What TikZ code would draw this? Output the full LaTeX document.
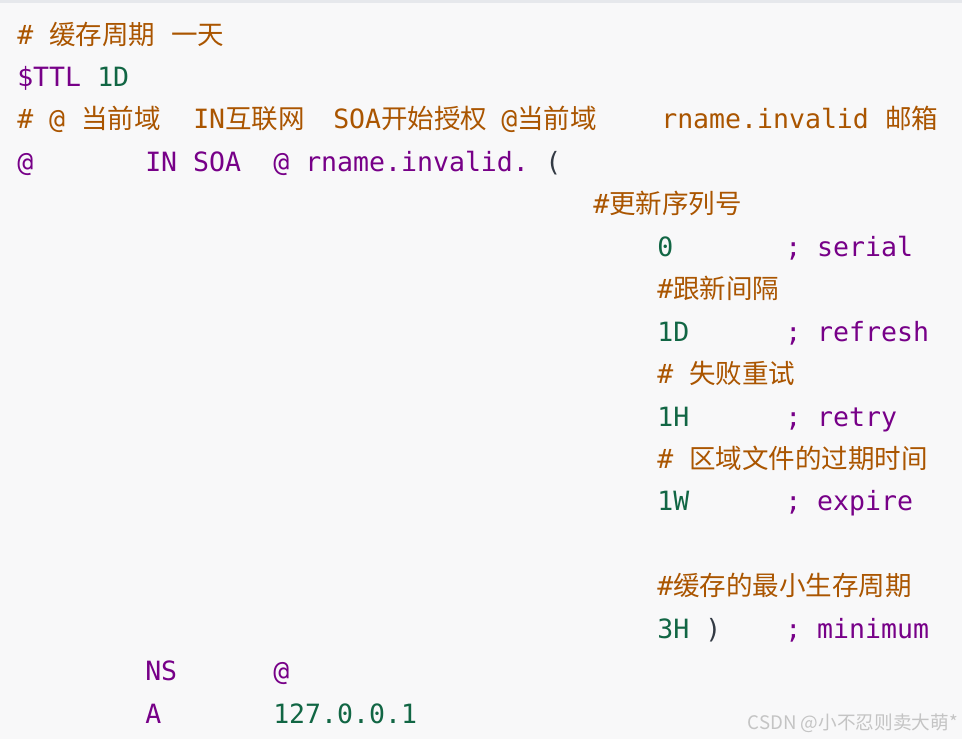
\documentclass[tikz,border=0pt]{standalone}
\usepackage{fontspec}
\newfontfamily\codefont{DejaVu Sans Mono}
\newfontfamily\zhfont{Noto Sans CJK SC}
\newcommand{\zhs}[1]{{\zhfont #1}}
\definecolor{cmcomment}{HTML}{AA5500}
\definecolor{cmkeyword}{HTML}{770088}
\definecolor{cmnumber}{HTML}{116644}
\definecolor{cmbracket}{HTML}{333A44}
\definecolor{pagebg}{HTML}{F8F8F9}
\definecolor{topline}{HTML}{E6E8EC}
\definecolor{wmgray}{HTML}{C4C4C4}
\begin{document}
\begin{tikzpicture}[x=0.75pt,y=-0.75pt,
    code/.style={anchor=base west, inner sep=0pt, font=\fontsize{19.9}{24}\selectfont\codefont},
    cmt/.style={code, text=cmcomment},
    kw/.style={code, text=cmkeyword},
    num/.style={code, text=cmnumber},
    brk/.style={code, text=cmbracket}]

    % Background
    \fill[pagebg] (0,0) rectangle (962,739);
    \fill[topline] (0,0) rectangle (962,2.5);
    \useasboundingbox (0,0) rectangle (962,739);

    % Header lines
    \node[cmt] (c0) at (17,44) {\# \zhs{缓存周期} \zhs{一天}};
    \node[kw] (ttl) at (17,86.45) {\$TTL};
    \node[num] (ttlval) at (97,86.45) {1D};
    \node[cmt] (c1) at (17,128.9) {\# @ \zhs{当前域}};
    \node[cmt] (c2) at (193,128.9) {IN\zhs{互联网}};
    \node[cmt] (c3) at (333,128.9) {SOA\zhs{开始授权}};
    \node[cmt] (c4) at (501,128.9) {@\zhs{当前域}};
    \node[cmt] (c5) at (661,128.9) {rname.invalid};
    \node[cmt] (c6) at (885,128.9) {\zhs{邮箱}};

    % SOA record
    \node[kw] (origin) at (17,171.35) {@};
    \node[kw] (soa) at (145,171.35) {IN SOA};
    \node[kw] (mname) at (273,171.35) {@};
    \node[kw] (rname) at (305,171.35) {rname.invalid.};
    \node[brk] (open) at (545,171.35) {(};

    % Comments above each field
    \foreach \r/\x/\txt in {4/593/{\#\zhs{更新序列号}},
                            6/657/{\#\zhs{跟新间隔}},
                            8/657/{\# \zhs{失败重试}},
                            10/657/{\# \zhs{区域文件的过期时间}},
                            13/657/{\#\zhs{缓存的最小生存周期}}}{
        \node[cmt] (note\r) at (\x,{44+42.45*\r}) {\txt};
    }

    % Field values
    \foreach \r/\val/\fld in {5/0/serial,7/1D/refresh,9/1H/retry,11/1W/expire,14/3H/minimum}{
        \node[num] (val\r) at (657,{44+42.45*\r}) {\val};
        \node[kw] (fld\r) at (785,{44+42.45*\r}) {; \fld};
    }
    \node[brk] (close) at (705,638.3) {)};

    % NS and A records
    \node[kw] (ns) at (145,680.75) {NS};
    \node[kw] (nsval) at (273,680.75) {@};
    \node[kw] (arec) at (145,723.2) {A};
    \node[num] (addr) at (273,723.2) {127.0.0.1};

    % Watermark
    \node[anchor=base east, inner sep=0pt, text=wmgray, font=\fontsize{14}{16}\selectfont\zhfont] (mark) at (958,729.5) {CSDN @小不忍则卖大萌*};

\end{tikzpicture}
\end{document}
